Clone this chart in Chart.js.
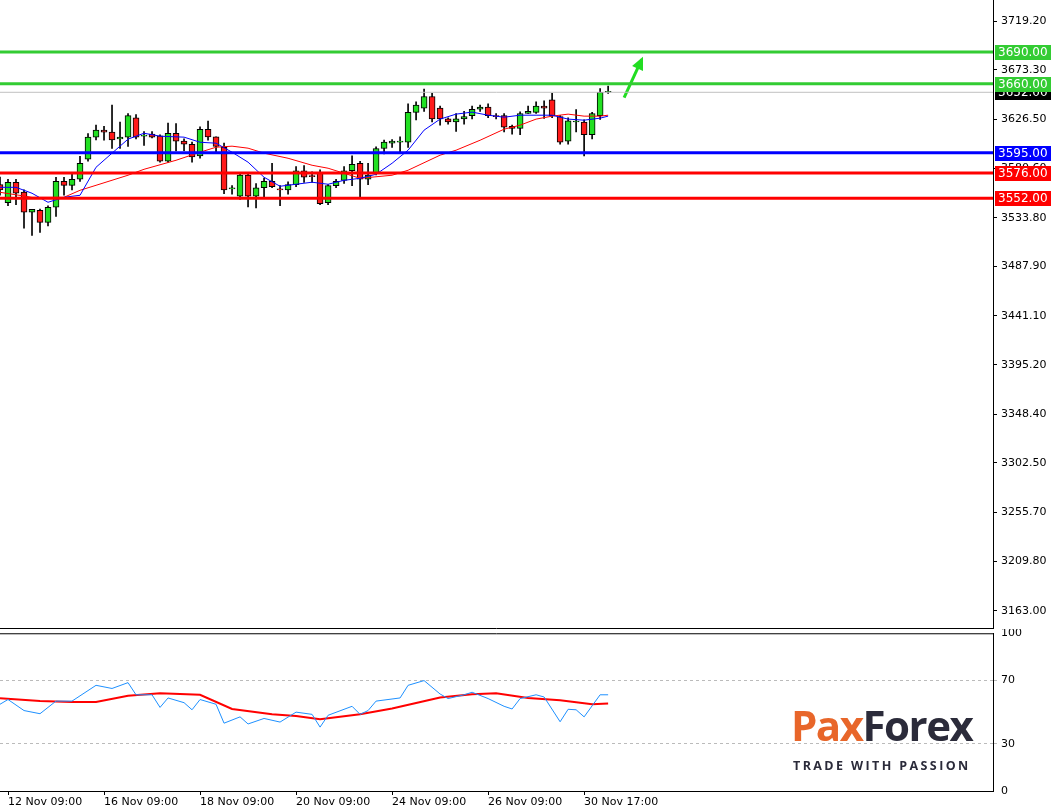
<!DOCTYPE html>
<html><head><meta charset="utf-8">
<script src="https://cdn.jsdelivr.net/npm/chart.js@4"></script>
<style>
body{margin:0;background:#fff;width:1057px;height:807px;overflow:hidden;position:relative;font-family:"DejaVu Sans",sans-serif}
#c1{position:absolute;left:0;top:0}
#c2{position:absolute;left:0;top:629px}
#logo{position:absolute;left:791px;top:700px;width:190px;font-family:"Open Sans",sans-serif}
</style></head><body>
<canvas id="c1" width="1057" height="629"></canvas>
<canvas id="c2" width="1057" height="178"></canvas>
<div id="logo"><div style="font-weight:700;font-size:42px;letter-spacing:-1.5px;line-height:50px"><span style="color:#e8662a">Pax</span><span style="color:#2b2b3a">Forex</span></div>
<div style="font-weight:700;font-size:12.5px;letter-spacing:2.4px;color:#2b2b3a;margin-top:7px;margin-left:2px">TRADE WITH PASSION</div></div>
<script>
const opens =[3565,3548,3567,3558,3539,3540.7,3529.4,3543.6,3568.1,3564.3,3570,3589,3609.7,3616.3,3614.4,3608,3609.7,3628,3610.6,3612.5,3611,3587,3613.4,3606,3603,3592,3617,3610,3600,3561,3554,3574,3554,3562,3568,3561,3560,3565,3578,3573,3576,3548,3564,3569,3578,3585,3570,3576,3599,3604,3605,3605,3633,3637,3648,3637,3627,3624,3627,3630,3636,3638,3630,3630,3620,3618,3632,3633,3639,3645,3629,3606,3624,3624,3612,3630,3652];
const highs =[3572,3570,3570,3560,3541.7,3542,3545,3571.9,3571.9,3575,3591.7,3613,3621,3620,3640,3624,3632,3631,3615,3615,3612,3623,3622.6,3608,3605,3619.4,3624.8,3610,3604,3564,3576,3576,3566,3571,3585,3564,3567.5,3582,3583,3577,3579,3565,3570,3582,3592,3587,3585,3600.5,3607,3607.5,3610,3641,3643,3655,3651,3639,3628,3632,3634,3639,3640,3641,3632,3632,3621,3633.6,3639,3643,3644,3651,3630,3628,3635.8,3626,3633,3655.6,3657.8];
const lows  =[3555,3545,3546,3524,3517,3520,3526,3535,3555,3560,3568,3587,3607,3606.8,3599,3599,3601,3608,3602,3609,3586,3586,3596.8,3597,3586,3590,3606.8,3596,3556.5,3556,3551,3544,3543,3553,3562,3545,3556,3563,3567,3567,3546,3546,3562,3566,3564,3553,3565,3574,3594,3600,3595,3600,3626,3634,3624,3621,3622,3615,3622,3627,3634,3628,3627,3614.7,3612.5,3612,3632,3632,3627.3,3628,3603,3603,3614.7,3592,3608,3626.4,3651];
const closes=[3560,3567,3557,3539,3541.7,3529.4,3543.6,3568.1,3564.3,3570,3585,3609.7,3616.3,3614.4,3607,3609.7,3630,3609.7,3611.5,3609.7,3587,3613.4,3605.9,3603,3591,3617,3610,3601,3560,3561,3574,3554,3562,3568,3563,3560,3565,3578,3572,3572.5,3547,3564,3568,3578,3584,3570,3574,3599,3605,3606,3605,3633,3640,3648,3627,3627,3624,3627,3629,3636,3638,3630,3629,3619,3618,3632,3634,3639,3637,3630,3605,3625,3624,3612,3632,3652,3652];
const maFastIdx=[0,2,4,6,8,10,12,14,16,18,20,23,25,27,29,31,33,35,37,39,41,43,45,47,49,51,53,55,57,59,61,63,65,67,69,71,73,75,76];
const maFast=[3562.4,3562.4,3556.8,3548.3,3553.0,3554.9,3581.3,3594.6,3607.8,3613.4,3610.6,3609.7,3604.9,3604.0,3595.5,3586.1,3571.9,3563.4,3565.3,3567.2,3565.3,3569.0,3570.9,3574.7,3585.1,3597.4,3616.3,3626.7,3631.4,3633.3,3630.4,3628.5,3630.4,3630.4,3630.4,3626.7,3625.7,3627.6,3629.5];
const maSlowIdx=[0,4,8,10,12,16,18,22,25,27,29,31,33,36,39,41,45,49,51,55,57,60,63,65,67,69,71,73,75,76];
const maSlow=[3557.7,3553.0,3553.0,3559.6,3564.3,3573.8,3579.4,3587.9,3595.5,3600.2,3601.2,3599.3,3594.6,3589.8,3583.2,3580.4,3570.9,3573.8,3578.5,3592.7,3597.4,3606.8,3617.2,3621.0,3626.7,3629.5,3631.4,3629.5,3629.5,3630.4];
const rsiIdx=[0,1,3,5,7,9,12,14,16,17,19,20,21,23,24,25,27,28,30,31,33,35,37,39,40,41,44,45,46,47,50,51,53,55,56,58,59,61,63,64,65,67,68,70,71,72,73,74,75,76];
const rsi=[55,58,51,49,57,57,67,65,68.7,61,61,53,59,56,51.5,58,55,43,47,42.5,46,43.7,50,48.6,40.5,48,53.7,48.6,51,57,59,67,70,61.5,58.6,61,62.6,58.6,53.7,52,58.6,61,59.6,43.9,51.8,51.5,47,54,61,61];
const rsiSigIdx=[0,5,9,12,16,20,25,29,34,37,40,45,49,55,59,62,66,70,74,76];
const rsiSig=[58.8,57,56.5,56.5,60.4,62,61,52,48.7,47.5,45.5,48.7,52.3,59.3,61.4,62,59,57.6,55,55.5];
const priceTicks=[3719.2,3673.3,3626.5,3580.6,3533.8,3487.9,3441.1,3395.2,3348.4,3302.5,3255.7,3209.8,3163.0];
const levels=[{v:3690,c:'#33cc33'},{v:3660,c:'#33cc33'},{v:3595,c:'#0000ff'},{v:3576,c:'#ff0000'},{v:3552,c:'#ff0000'}];
const currentPrice=3652;
const arrowFrom=[78,3647], arrowTo=[80.2,3683];
const timeIdx=[1,13,25,37,49,61,73];
const timeLabels=['12 Nov 09:00','16 Nov 09:00','18 Nov 09:00','20 Nov 09:00','24 Nov 09:00','26 Nov 09:00','30 Nov 17:00'];
const rsiTicks=[0,30,70,100];

const XMIN=0,XMAX=124.1;
const up='#22e022', dn='#ff1a1a';
const idx=opens.map((_,i)=>i);
const col=idx.map(i=>closes[i]>=opens[i]?up:dn);
const font={family:'"DejaVu Sans",sans-serif',size:11};

const levelPlugin={id:'lv',afterDraw(ch){
  const c=ch.ctx,ys=ch.scales.y,xs=ch.scales.x,a=ch.chartArea;
  const x1=xs.getPixelForValue(arrowFrom[0]),y1=ys.getPixelForValue(arrowFrom[1]);
  const x2=xs.getPixelForValue(arrowTo[0]),y2=ys.getPixelForValue(arrowTo[1]);
  const ang=Math.atan2(y2-y1,x2-x1);
  c.save();c.fillStyle='#22dd22';c.beginPath();c.moveTo(x2+3*Math.cos(ang),y2+3*Math.sin(ang));
  c.lineTo(x2-10*Math.cos(ang)+6*Math.sin(ang),y2-10*Math.sin(ang)-6*Math.cos(ang));
  c.lineTo(x2-10*Math.cos(ang)-6*Math.sin(ang),y2-10*Math.sin(ang)+6*Math.cos(ang));c.closePath();c.fill();
  c.font='12px "DejaVu Sans",sans-serif';c.textBaseline='middle';c.textAlign='left';
  const boxes=[{v:currentPrice,c:'#000'}].concat(levels);
  boxes.forEach(b=>{const y=Math.round(ys.getPixelForValue(b.v));c.fillStyle=b.c;c.fillRect(a.right+2,y-7,56,15);c.fillStyle='#fff';c.fillText(b.v.toFixed(2),a.right+5,y+1);});
  c.strokeStyle='#000';c.lineWidth=1;c.beginPath();c.moveTo(a.left,ch.height-0.5);c.lineTo(a.right,ch.height-0.5);c.stroke();
  c.restore();
}};
const topLine={id:'tl',afterDraw(ch){const c=ch.ctx,a=ch.chartArea;c.save();c.strokeStyle='#000';c.lineWidth=1;c.beginPath();c.moveTo(a.left,a.top+0.5);c.lineTo(a.right,a.top+0.5);c.stroke();c.restore();}};

const lineDs=(pts,color,w)=>({type:'line',data:pts,borderColor:color,borderWidth:w,pointRadius:0,tension:0,order:0});
const levelDs=levels.map(l=>lineDs([{x:XMIN,y:l.v},{x:XMAX,y:l.v}],l.c,3));

new Chart(document.getElementById('c1'),{
  data:{datasets:[
    lineDs([{x:XMIN,y:currentPrice},{x:XMAX,y:currentPrice}],'#c0c0c0',1),
    ...levelDs,
    lineDs([{x:arrowFrom[0],y:arrowFrom[1]},{x:arrowTo[0],y:arrowTo[1]}],'#22dd22',3),
    lineDs(maFastIdx.map((x,i)=>({x,y:maFast[i]})),'#0000ff',1),
    lineDs(maSlowIdx.map((x,i)=>({x,y:maSlow[i]})),'#ff0000',1),
    {type:'bar',data:idx.map(i=>({x:i,y:[lows[i],highs[i]]})),backgroundColor:'#000',barThickness:1,grouped:false,order:3},
    {type:'bar',data:idx.map(i=>({x:i,y:[opens[i],closes[i]]})),backgroundColor:col,borderColor:'#000',borderWidth:1,borderSkipped:false,barThickness:6,minBarLength:1,grouped:false,order:2}
  ]},
  options:{responsive:false,animation:false,layout:{padding:0},clip:false,
    plugins:{legend:{display:false},tooltip:{enabled:false}},
    scales:{
      x:{type:'linear',min:XMIN,max:XMAX,display:false,offset:false},
      y:{position:'right',min:3146,max:3739,
        afterFit(s){s.width=64;s.paddingTop=0;s.paddingBottom=0},
        afterBuildTicks(s){s.ticks=priceTicks.map(v=>({value:v}))},
        ticks:{color:'#000',font:{...font,lineHeight:0.05},padding:4,callback:v=>v.toFixed(2)},
        grid:{drawOnChartArea:false,drawTicks:true,tickLength:4,color:'#000'},
        border:{color:'#000',width:1}}
    }},
  plugins:[levelPlugin]
});

new Chart(document.getElementById('c2'),{
  data:{datasets:[
    lineDs(rsiIdx.map((x,i)=>({x,y:rsi[i]})),'#1e90ff',1),
    lineDs(rsiSigIdx.map((x,i)=>({x,y:rsiSig[i]})),'#ff0000',2)
  ]},
  options:{responsive:false,animation:false,layout:{padding:{top:2}},
    plugins:{legend:{display:false},tooltip:{enabled:false}},
    scales:{
      x:{type:'linear',min:XMIN,max:XMAX,offset:false,
        afterFit(s){s.height=16},
        afterBuildTicks(s){s.ticks=timeIdx.map(v=>({value:v}))},
        ticks:{color:'#000',font,align:'start',maxRotation:0,padding:1,autoSkip:false,callback:v=>timeLabels[timeIdx.indexOf(v)]},
        grid:{drawOnChartArea:false,drawTicks:true,tickLength:4,color:'#000'},
        border:{color:'#000',width:1}},
      y:{position:'right',min:0,max:100,
        afterFit(s){s.width=64},
        afterBuildTicks(s){s.ticks=rsiTicks.map(v=>({value:v}))},
        ticks:{color:'#000',font:{...font,lineHeight:0.05},padding:4,callback:v=>v===100?'100':v===70?'70':v===30?'30':'0'},
        grid:{color:c=>(c.tick&&(c.tick.value===30||c.tick.value===70))?'#bbbbbb':'rgba(0,0,0,0)',drawTicks:true,tickLength:4},
        border:{color:'#000',width:1,dash:[3,3]}}
    }},
  plugins:[topLine]
});
</script></body></html>
